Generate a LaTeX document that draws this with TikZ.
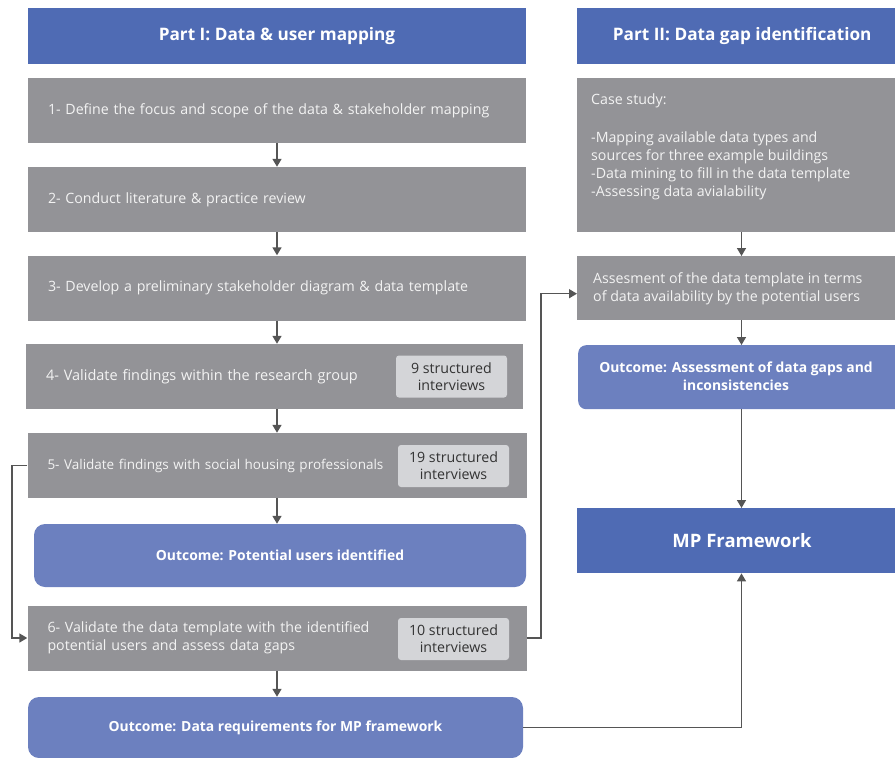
\documentclass[tikz,border=0pt]{standalone}
\usepackage{fontspec}
\setmainfont{Open Sans}
\usetikzlibrary{arrows.meta,calc}
\definecolor{hdrblue}{HTML}{4F6BB4}
\definecolor{outblue}{HTML}{6C80BF}
\definecolor{boxgray}{HTML}{939397}
\definecolor{innergray}{HTML}{D4D5D8}
\definecolor{txtlight}{HTML}{F3F3F3}
\definecolor{txtdark}{HTML}{333333}
\definecolor{arrgray}{HTML}{555555}
\tikzset{
  header/.style={fill=hdrblue, text=white, font=\bfseries\fontsize{17.2}{20}\selectfont, inner sep=0pt, minimum height=56pt},
  graybox/.style={fill=boxgray, text=txtlight, font=\fontsize{14.2}{18}\selectfont, inner ysep=0pt, inner xsep=20pt, align=left, minimum height=65pt},
  innerbox/.style={fill=innergray, text=txtdark, rounded corners=3pt, font=\fontsize{14.2}{17}\selectfont, align=center, minimum width=111pt, minimum height=42pt, inner sep=0pt},
  outbox/.style={fill=outblue, text=white, font=\bfseries\fontsize{13.9}{18}\selectfont, align=center, rounded corners=11pt, inner sep=0pt},
  arr/.style={draw=arrgray, line width=1.5pt, -{Triangle[width=9pt,length=8pt]}},
  conn/.style={draw=arrgray, line width=1.5pt}
}
\begin{document}
\begin{tikzpicture}[x=1pt,y=-1pt]
\useasboundingbox (0,0) rectangle (895,758);
\clip (0,0) rectangle (895,758);
% Left column
\node[header, minimum width=498pt] (h1) at (277,36) {Part I: Data \& user mapping};
\node[graybox, text width=458pt] (b1) at (277,110.5) {1- Define the focus and scope of the data \& stakeholder mapping};
\node[graybox, text width=458pt] (b2) at (277,199.5) {2- Conduct literature \& practice review};
\node[graybox, text width=458pt] (b3) at (277,288) {3- Develop a preliminary stakeholder diagram \&  data template};
\node[graybox, text width=457pt, font=\fontsize{14.5}{18}\selectfont] (b4) at (274.5,376.5) {4- Validate findings within the research group};
\node[innerbox] (i4) at (451.5,376.5) {9 structured\\interviews};
\node[graybox, text width=459pt, font=\fontsize{13.5}{18}\selectfont] (b5) at (277,465.5) {5- Validate findings with social housing professionals};
\node[innerbox] (i5) at (453.5,466) {19 structured\\interviews};
\node[outbox, minimum width=492pt, minimum height=63pt] (o1) at (280,555.5) {Outcome: Potential users identified};
\node[graybox, text width=459pt] (b6) at (277,638) {6- Validate the data template with the identified\\potential users and assess data gaps};
\node[innerbox] (i6) at (453.5,639) {10 structured\\interviews};
\node[outbox, minimum width=495pt, minimum height=61pt] (o2) at (275.5,727.5) {Outcome: Data requirements for MP framework};
% Right column
\node[header, minimum width=330pt, anchor=west] (h2) at (577,36) {\hspace*{-12pt}Part II: Data gap identification\hspace*{-12pt}};
\node[fill=boxgray, minimum width=330pt, minimum height=154pt, anchor=north west, inner sep=0pt] (cs) at (577,78) {};
\node[text=txtlight, font=\fontsize{14.2}{18}\selectfont, align=left, anchor=north west, inner sep=0pt] (cst) at (591,93.5) {Case study:\\[2pt]\strut\\-Mapping available data types and\\sources for three example buildings\\-Data mining to fill in the data template\\-Assessing data avialability};
\node[fill=boxgray, minimum width=330pt, minimum height=64pt, anchor=north west, inner sep=0pt] (a2) at (577,256) {};
\node[text=txtlight, font=\fontsize{14.2}{18}\selectfont, align=left, anchor=west, inner sep=0pt] (a2t) at (593,288.5) {Assesment of the data template in terms\\of data availability by the potential users};
\node[fill=outblue, rounded corners=8pt, minimum width=340pt, minimum height=64pt, anchor=north west, inner sep=0pt] (o3) at (578,345) {};
\node[text=white, font=\bfseries\fontsize{13.9}{18}\selectfont, align=center, inner sep=0pt] (o3t) at (736,376) {Outcome: Assessment of data gaps and\\inconsistencies};
\node[fill=hdrblue, minimum width=330pt, minimum height=65pt, anchor=north west, inner sep=0pt] (mp) at (577,508) {};
\node[text=white, font=\bfseries\fontsize{18.5}{22}\selectfont, inner sep=0pt] (mpt) at (742,540.5) {MP Framework};
% Coordinates
\coordinate (xr) at (741.5,0);
\coordinate (xl) at (12,0);
\coordinate (xm) at (541,0);
% Arrows left column
\draw[arr] (b1.south) -- (b2.north);
\draw[arr] (b2.south) -- (b3.north);
\draw[arr] (b3.south) -- (b3.south |- b4.north);
\draw[arr] (b4.south -| b3.south) -- (b5.north);
\draw[arr] (b5.south) -- (b5.south |- o1.north);
\draw[arr] (b6.south) -- (b6.south |- o2.north);
\draw[arr] (b5.west) -- (b5.west -| xl) |- (b6.west);
\coordinate (a2in) at ($(a2.west)+(0,5.5)$);
\draw[arr] (b6.east) -- (b6.east -| xm) |- (a2in);
% Arrows right column
\draw[arr] (cs.south -| xr) -- (a2.north -| xr);
\draw[arr] (a2.south -| xr) -- (o3.north -| xr);
\draw[arr] (o3.south -| xr) -- (mp.north -| xr);
\draw[arr] (o2.east) -- (o2.east -| xr) -- (mp.south -| xr);
\end{tikzpicture}
\end{document}
